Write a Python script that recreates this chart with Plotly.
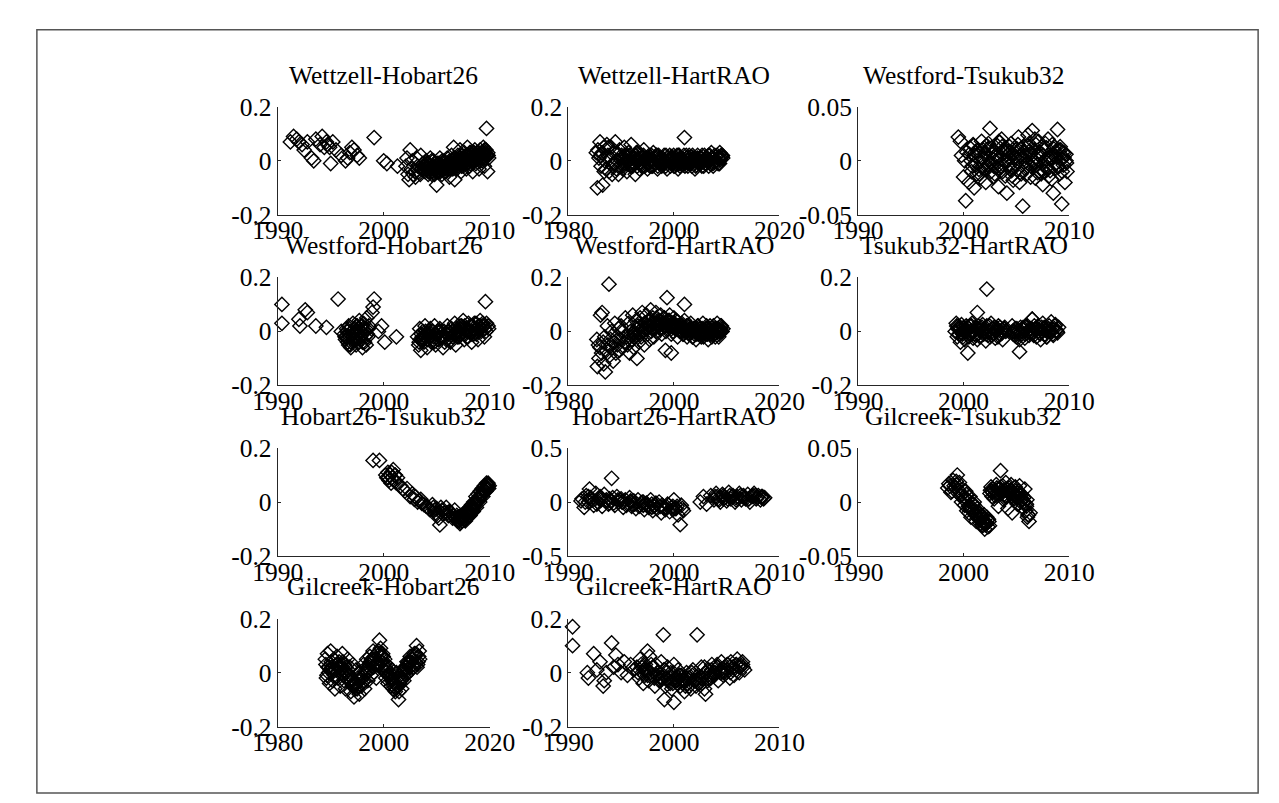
import plotly.graph_objects as go

W, H = 1279, 803

# ---------------- data ----------------
# 1 Wettzell-Hobart26
wh_x = [1991.2,1991.5,1991.8,1992.0,1992.3,1992.5,1992.8,1993.2,1993.4,1993.6,1994.0,1994.2,1994.4,1994.6,1994.7,1994.9,1995.0,1995.2,1995.5,1996.0,1996.4,1996.6,1996.8,1997.0,1997.2,1997.5,1997.7,1999.1,2000.0,2000.3,2001.3,
        2002.1,2002.2,2002.3,2002.4,2002.5,2002.6,2002.7,2002.8,2003.0,2003.1,2003.2,2003.3,2003.5,2003.6,2003.7,2003.9,2004.0,2004.1,2004.2,2004.3,2004.4,2004.5,2004.6,2004.7,2004.8,2004.9,2005.0,2005.1,2005.2,2005.3,2005.4,2005.5,2005.6,2005.7,2005.8,2005.9,2006.0,2006.1,2006.2,2006.3,2006.4,2006.5,2006.6,2006.7,2006.8,2006.9,2007.0,2007.1,2007.2,2007.3,2007.4,2007.5,2007.6,2007.7,2007.8,2007.9,2008.0,2008.1,2008.2,2008.3,2008.4,2008.5,2008.6,2008.7,2008.8,2008.9,2009.0,2009.1,2009.2,2009.3,2009.4,2009.5,2009.6,2009.7,2009.8,2009.9,
        2004.05,2004.35,2004.65,2004.95,2005.25,2005.55,2005.85,2006.15,2006.45,2006.75,2007.05,2007.35,2007.65,2007.95,2008.25,2008.55,2008.85,2009.15,2009.45,2009.75,2004.25,2004.85,2005.45,2006.05,2006.65,2007.25,2007.85,2008.45,2009.05,2009.65,
        2003.8,2004.15,2004.55,2005.05,2005.35,2005.75,2006.25,2006.55,2006.95,2007.45,2007.75,2008.15,2008.65,2008.95,2009.35,2009.55,2009.85,2002.95,2003.45]
wh_y = [0.07,0.09,0.08,0.07,0.06,0.04,0.07,0.01,0.0,0.08,0.06,0.09,0.05,0.07,0.06,0.05,-0.01,0.07,0.04,0.02,0.0,0.01,0.03,0.05,0.04,0.02,0.01,0.086,0.0,-0.01,-0.02,
        -0.02,0.01,-0.05,-0.07,0.04,-0.03,0.0,-0.05,-0.06,0.01,-0.02,-0.04,0.02,-0.03,-0.01,-0.04,0.0,-0.02,-0.05,-0.03,0.01,-0.04,-0.02,0.0,-0.05,-0.03,-0.09,-0.01,-0.04,0.01,-0.02,-0.05,-0.03,0.0,-0.02,-0.04,0.01,-0.03,-0.06,-0.01,0.02,-0.02,0.05,-0.07,0.0,-0.03,0.02,-0.01,0.04,-0.04,0.01,-0.02,0.03,0.0,-0.03,0.05,0.01,-0.02,0.03,0.0,-0.04,0.02,0.04,-0.01,0.03,0.01,-0.03,0.04,0.02,0.0,0.05,-0.02,0.03,0.12,-0.04,0.01,
        -0.01,-0.03,-0.02,-0.04,-0.02,-0.01,-0.03,-0.02,0.0,-0.01,0.0,-0.02,0.01,0.02,0.01,0.0,0.02,0.01,0.03,0.02,-0.04,-0.01,-0.03,-0.01,-0.02,0.01,-0.01,0.03,0.02,0.04,
        -0.03,-0.01,-0.05,-0.02,-0.04,-0.01,-0.03,0.0,-0.02,0.0,0.02,-0.01,0.01,0.03,0.01,0.04,0.02,-0.04,-0.05]
wh_x2 = [2004.02,2004.12,2004.22,2004.32,2004.42,2004.52,2004.62,2004.72,2004.82,2004.92,2005.02,2005.12,2005.22,2005.32,2005.42,2005.52,2005.62,2005.72,2005.82,2005.92,2006.02,2006.12,2006.22,2006.32,2006.42,2006.52,2006.62,2006.72,2006.82,2006.92,2007.02,2007.12,2007.22,2007.32,2007.42,2007.52,2007.62,2007.72,2007.82,2007.92,2008.02,2008.12,2008.22,2008.32,2008.42,2008.52,2008.62,2008.72,2008.82,2008.92,2009.02,2009.12,2009.22,2009.32,2009.42,2009.52,2009.62,2009.72,2009.82]
wh_y2 = [-0.03,-0.01,-0.04,-0.02,-0.03,0.0,-0.04,-0.02,-0.01,-0.03,-0.02,-0.04,-0.01,-0.03,-0.02,0.0,-0.03,-0.01,-0.04,-0.02,-0.01,-0.03,0.0,-0.02,-0.01,-0.03,0.01,-0.02,0.0,-0.01,-0.02,0.01,0.0,-0.01,0.02,-0.01,0.01,0.0,0.02,-0.01,0.01,0.03,0.0,0.02,0.01,0.03,0.0,0.02,0.01,0.03,0.02,0.0,0.03,0.01,0.02,0.04,0.01,0.02,0.03]

# 2 Wettzell-HartRAO
whr_x = [1985.3,1985.5,1985.6,1985.8,1986.0,1986.2,1986.4,1986.5,1986.7,1986.9,1987.1,1987.3,1987.5,1987.7,1987.9,1988.1,1988.3,1988.5,1988.7,1988.9,1989.1,1989.3,1989.5,1989.7,1989.9,
         1990.1,1990.3,1990.6,1990.8,1991.1,1991.4,1991.6,1991.9,1992.2,1992.4,1992.7,1992.9,1993.2,1993.5,1993.7,1994.0,1994.3,1994.5,1994.8,1995.0,1995.3,1995.6,1995.8,1996.1,1996.4,1996.6,1996.9,1997.1,1997.4,1997.7,1997.9,1998.2,1998.5,1998.7,1999.0,1999.2,1999.5,1999.8,2000.0,2000.3,2000.6,2000.8,2001.1,2001.3,2001.6,2001.9,2002.1,2002.4,2002.7,2002.9,2003.2,2003.4,2003.7,2004.0,2004.2,2004.5,2004.8,2005.0,2005.3,2005.5,2005.8,2006.1,2006.3,2006.6,2006.9,2007.1,2007.4,2007.6,2007.9,2008.2,2008.4,2008.7,2008.9,2009.2,
         2002.0,
         1990.5,1991.0,1991.5,1992.0,1992.5,1993.0,1993.6,1994.1,1994.6,1995.1,1995.7,1996.2,1996.7,1997.2,1997.8,1998.3,1998.8,1999.3,1999.9,2000.4,2000.9,2001.4,2002.0,2002.5,2003.0,2003.5,2004.1,2004.6,2005.1,2005.6,2006.2,2006.7,2007.2,2007.7,2008.3,2008.8,2009.1,
         1986.1,1986.8,1987.6,1988.4,1989.2,1990.9,1991.8,1992.6,1993.4,1994.2,1995.2,1996.0,1996.8,1997.6,1998.4,1999.6,2000.2,2001.0,2001.8,2002.6,2003.3,2004.3,2005.2,2006.0,2006.8,2007.8,2008.6]
whr_y = [0.03,-0.10,0.04,0.01,0.07,-0.02,0.03,-0.09,0.05,0.0,-0.03,0.06,0.02,-0.04,0.01,0.05,-0.05,-0.01,0.03,0.07,-0.03,0.0,-0.05,0.04,-0.02,
         0.02,-0.03,0.05,0.0,-0.04,0.03,-0.01,0.06,-0.02,0.01,-0.05,0.03,0.0,-0.03,0.02,-0.01,0.04,-0.02,0.01,-0.03,0.02,0.0,-0.02,0.03,-0.01,0.01,-0.03,0.02,0.0,-0.02,0.01,-0.01,0.02,-0.03,0.0,0.02,-0.01,0.01,-0.02,0.0,0.02,-0.03,0.01,-0.01,0.0,0.02,-0.02,0.01,-0.01,0.02,0.0,-0.02,0.01,-0.03,0.0,0.02,-0.01,0.01,-0.02,0.0,0.02,-0.01,0.01,-0.02,0.0,0.03,-0.01,0.01,0.0,0.02,-0.01,0.03,0.01,0.02,
         0.086,
         -0.01,0.015,0.0,-0.015,0.01,0.005,-0.01,0.012,0.0,-0.012,0.008,-0.005,0.01,-0.008,0.005,0.0,-0.01,0.01,-0.005,0.008,-0.012,0.004,-0.006,0.01,-0.01,0.006,0.0,-0.008,0.01,-0.004,0.008,0.0,0.012,-0.006,0.01,0.004,0.015,
         0.02,-0.04,0.05,-0.02,0.03,0.02,-0.02,0.01,0.03,-0.02,0.01,-0.02,0.02,-0.01,0.0,0.015,-0.02,0.02,-0.015,0.0,0.015,-0.015,0.01,-0.01,0.02,0.0,0.01]
whr_x2 = [1990.05,1990.35,1990.65,1990.95,1991.25,1991.55,1991.85,1992.15,1992.45,1992.75,1993.05,1993.35,1993.65,1993.95,1994.25,1994.55,1994.85,1995.15,1995.45,1995.75,1996.05,1996.35,1996.65,1996.95,1997.25,1997.55,1997.85,1998.15,1998.45,1998.75,1999.05,1999.35,1999.65,1999.95,2000.25,2000.55,2000.85,2001.15,2001.45,2001.75,2002.05,2002.35,2002.65,2002.95,2003.25,2003.55,2003.85,2004.15,2004.45,2004.75,2005.05,2005.35,2005.65,2005.95,2006.25,2006.55,2006.85,2007.15,2007.45,2007.75,2008.05,2008.35,2008.65,2008.95,2009.25]
whr_y2 = [0.01,-0.02,0.02,-0.01,0.0,0.02,-0.02,0.01,-0.01,0.02,-0.02,0.0,0.01,-0.02,0.02,0.0,-0.01,0.01,-0.02,0.02,0.0,-0.01,0.02,-0.02,0.01,0.0,-0.01,0.02,-0.02,0.01,0.0,-0.02,0.01,0.02,-0.01,0.0,0.02,-0.02,0.01,-0.01,0.0,0.02,-0.02,0.01,-0.01,0.02,0.0,-0.02,0.01,0.0,-0.01,0.02,-0.02,0.01,0.0,0.02,-0.01,0.01,-0.02,0.02,0.0,0.01,-0.01,0.02,0.01]

# 3 Westford-Tsukub32
wt_x = [1999.5,1999.7,1999.8,2000.0,2000.1,2000.2,2000.3,2000.5,2000.6,2000.8,2000.9,2001.0,2001.2,2001.3,2001.5,2001.6,2001.7,2001.9,2002.0,2002.1,2002.3,2002.4,2002.5,2002.7,2002.8,2002.9,2003.1,2003.2,2003.3,2003.5,2003.6,2003.7,2003.9,2004.0,2004.1,2004.3,2004.4,2004.5,2004.7,2004.8,2004.9,2005.1,2005.2,2005.3,2005.5,2005.6,2005.7,2005.9,2006.0,2006.1,2006.3,2006.4,2006.5,2006.7,2006.8,2006.9,2007.1,2007.2,2007.3,2007.5,2007.6,2007.7,2007.9,2008.0,2008.1,2008.3,2008.4,2008.5,2008.7,2008.8,2008.9,2009.1,2009.2,2009.3,2009.5,2009.6,2009.7,2009.8,
        2001.05,2001.45,2001.85,2002.25,2002.65,2003.05,2003.45,2003.85,2004.25,2004.65,2005.05,2005.45,2005.85,2006.25,2006.65,2007.05,2007.45,2007.85,2008.25,2008.65,2009.05,2009.45,2001.25,2002.05,2002.85,2003.65,2004.45,2005.25,2006.05,2006.85,2007.65,2008.45,2009.25,
        2000.7,2001.1,2001.8,2002.2,2002.6,2003.0,2003.4,2003.8,2004.2,2004.6,2005.0,2005.4,2005.8,2006.2,2006.6,2007.0,2007.4,2007.8,2008.2,2008.6,2009.0,2009.4,2009.7]
wt_y = [0.022,0.018,0.005,-0.015,0.0,-0.037,0.008,-0.02,0.012,-0.005,0.015,-0.025,0.004,0.01,-0.012,0.0,0.018,-0.008,0.006,-0.02,0.011,-0.003,0.03,0.002,-0.015,0.009,-0.006,0.014,-0.024,0.004,0.02,-0.01,0.0,0.012,-0.03,0.007,-0.004,0.016,-0.018,0.003,0.01,-0.008,0.022,-0.02,0.005,-0.042,0.013,0.0,-0.012,0.024,0.006,-0.005,0.028,0.01,-0.016,0.002,0.018,-0.01,0.007,-0.022,0.012,0.0,-0.006,0.02,-0.014,0.004,0.015,-0.03,0.008,-0.002,0.029,-0.012,0.01,-0.04,0.003,-0.02,0.006,-0.01,
        0.005,-0.008,0.01,-0.004,0.012,0.0,-0.01,0.008,0.003,-0.006,0.011,-0.012,0.004,0.009,-0.003,0.006,-0.009,0.012,0.002,-0.007,0.01,-0.004,-0.012,0.007,-0.005,0.013,-0.008,0.004,-0.002,0.015,-0.01,0.006,0.002,
        0.0,0.008,-0.006,0.014,-0.01,0.005,0.017,-0.004,0.009,-0.014,0.002,0.011,-0.007,0.016,0.0,-0.011,0.006,0.002,-0.009,0.013,-0.005,0.008,0.0]
wt_x2 = [2000.55,2000.75,2000.95,2001.15,2001.35,2001.55,2001.75,2001.95,2002.15,2002.35,2002.55,2002.75,2002.95,2003.15,2003.35,2003.55,2003.75,2003.95,2004.15,2004.35,2004.55,2004.75,2004.95,2005.15,2005.35,2005.55,2005.75,2005.95,2006.15,2006.35,2006.55,2006.75,2006.95,2007.15,2007.35,2007.55,2007.75,2007.95,2008.15,2008.35,2008.55,2008.75,2008.95,2009.15,2009.35,2009.55,2009.75]
wt_y2 = [0.006,-0.01,0.014,-0.004,0.009,-0.016,0.002,0.012,-0.008,0.016,-0.002,0.008,-0.012,0.004,0.018,-0.006,0.01,-0.014,0.0,0.013,-0.009,0.006,-0.003,0.015,-0.011,0.003,0.009,-0.006,0.014,-0.015,0.001,0.02,-0.004,0.008,-0.012,0.005,0.016,-0.008,0.002,-0.017,0.011,0.004,-0.006,0.013,-0.01,0.007,-0.002]

# 4 Westford-Hobart26
wfh_x = [1990.4,1990.4,1992.0,1992.1,1992.6,1992.8,1993.6,1994.6,1995.7,1996.0,
         1996.3,1996.4,1996.5,1996.6,1996.7,1996.8,1996.9,1997.0,1997.1,1997.2,1997.3,1997.4,1997.5,1997.6,1997.7,1997.8,1997.9,1998.0,1998.1,1998.2,1998.3,1998.4,1998.5,1998.6,1996.55,1996.85,1997.15,1997.45,1997.75,1998.05,1998.35,
         1996.45,1996.75,1997.05,1997.35,1997.65,1997.95,1998.25,1998.55,
         1998.9,1999.0,1999.1,1999.5,1999.8,2000.1,2001.2,
         2003.2,2003.3,2003.4,2003.5,2003.6,2003.7,2003.8,2003.9,2004.0,2004.1,2004.3,2004.4,2004.5,2004.7,2004.8,2004.9,2005.1,2005.2,2005.3,2005.5,2005.6,2005.7,2005.9,2006.0,2006.1,2006.3,2006.4,2006.5,2006.7,2006.8,2006.9,2007.1,2007.2,2007.3,2007.5,2007.6,2007.7,2007.9,2008.0,2008.1,2008.3,2008.4,2008.5,2008.7,2008.8,2008.9,2009.1,2009.2,2009.3,2009.5,2009.6,2009.7,2009.9,
         2003.65,2004.25,2004.85,2005.45,2006.05,2006.65,2007.25,2007.85,2008.45,2009.05,2009.55,
         2003.45,2004.05,2004.65,2005.25,2005.85,2006.45,2007.05,2007.65,2008.25,2008.85,2009.45]
wfh_y = [0.10,0.03,0.045,0.02,0.08,0.07,0.02,0.015,0.12,0.0,
         -0.01,-0.03,0.01,-0.04,0.02,-0.02,-0.06,0.0,0.03,-0.03,0.01,-0.05,0.02,-0.01,0.04,-0.02,0.0,-0.06,0.03,-0.04,0.01,0.05,-0.02,0.02,0.0,-0.05,-0.01,0.02,-0.03,0.01,-0.05,
         -0.02,0.01,-0.03,0.0,-0.04,0.02,-0.02,0.01,
         0.07,0.09,0.12,0.0,0.02,-0.04,-0.02,
         -0.02,-0.05,0.01,-0.07,-0.03,0.0,-0.04,0.02,-0.02,-0.06,-0.01,0.01,-0.04,-0.02,0.02,-0.05,0.0,-0.03,0.01,-0.02,-0.06,0.0,-0.03,0.02,-0.01,-0.04,0.01,-0.02,0.03,-0.05,0.0,-0.02,0.02,-0.01,0.04,-0.03,0.01,-0.02,0.03,0.0,-0.04,0.02,-0.01,0.03,0.01,-0.03,0.04,0.0,0.02,-0.02,0.11,0.03,0.01,
         -0.02,0.0,-0.01,-0.02,0.0,-0.01,0.01,0.0,0.01,0.02,0.01,
         -0.03,-0.01,-0.03,0.0,-0.02,0.0,-0.01,0.02,-0.01,0.0,0.02]
wfh_x2 = [1996.35,1996.6,1996.9,1997.1,1997.3,1997.55,1997.8,1998.0,1998.2,1998.45,1996.7,1997.95,
          2003.35,2003.55,2003.75,2003.95,2004.15,2004.35,2004.55,2004.75,2004.95,2005.15,2005.35,2005.55,2005.75,2005.95,2006.15,2006.35,2006.55,2006.75,2006.95,2007.15,2007.35,2007.55,2007.75,2007.95,2008.15,2008.35,2008.55,2008.75,2008.95,2009.15,2009.35,2009.65,2009.85]
wfh_y2 = [-0.02,0.0,-0.04,-0.01,-0.03,0.01,-0.02,-0.04,0.0,-0.01,-0.05,0.02,
          -0.04,-0.01,-0.03,0.0,-0.03,-0.02,0.0,-0.04,-0.01,-0.03,0.0,-0.02,-0.04,-0.01,0.0,-0.03,-0.01,0.01,-0.02,0.0,0.02,-0.01,0.01,-0.02,0.02,0.0,0.03,-0.01,0.02,0.01,0.03,0.0,0.02]

# 5 Westford-HartRAO
wfr_x = [1985.4,1985.5,1985.7,1985.8,1986.0,1986.1,1986.3,1986.4,1986.6,1986.7,1986.9,1987.0,1987.2,1987.4,1987.5,1987.7,1987.8,1988.0,1988.2,1988.3,1988.5,1988.7,1988.8,1989.0,1989.2,1989.3,1989.5,1989.7,1989.9,1990.0,1990.2,1990.4,1990.6,1990.8,1991.0,
         1991.2,1991.4,1991.6,1991.8,1992.0,1992.2,1992.4,1992.6,1992.8,1993.0,1993.2,1993.4,1993.6,1993.8,1994.0,1994.2,1994.4,1994.6,1994.8,1995.0,1995.2,1995.4,1995.6,1995.8,1996.0,1996.2,1996.4,1996.6,1996.8,1997.0,
         1997.2,1997.5,1997.7,1998.0,1998.2,1998.5,1998.7,1999.0,1999.2,1999.5,1999.7,2000.0,2000.2,2000.5,2000.7,2001.0,2001.2,2001.5,2001.7,2002.0,2002.2,2002.5,2002.7,2003.0,2003.2,2003.5,2003.7,2004.0,2004.2,2004.5,2004.7,2005.0,2005.2,2005.5,2005.7,2006.0,2006.2,2006.5,2006.7,2007.0,2007.2,2007.5,2007.7,2008.0,2008.2,2008.5,2008.7,2009.0,2009.3,
         1998.7,2002.0,1998.4,1999.5,
         1997.4,1997.9,1998.4,1998.9,1999.4,1999.9,2000.4,2000.9,2001.4,2001.9,2002.4,2002.9,2003.4,2003.9,2004.4,2004.9,2005.4,2005.9,2006.4,2006.9,2007.4,2007.9,2008.4,2008.9,
         1991.5,1992.5,1993.5,1994.5,1995.5,1996.5,1997.1,1997.6,1998.1,1998.6,1999.1,1999.6,2000.1,2000.6,2001.1,2001.6,2002.1,2003.1,2004.1,2005.1,2006.1,2007.1,2008.1,2009.1]
wfr_y = [-0.03,-0.13,-0.05,-0.1,-0.06,0.06,-0.08,0.07,-0.04,-0.12,-0.02,-0.15,-0.07,0.02,-0.05,0.175,-0.09,-0.03,0.0,-0.06,-0.11,-0.04,0.03,-0.08,-0.02,-0.05,0.01,-0.07,-0.03,0.02,-0.06,0.0,-0.04,0.05,-0.02,
         -0.05,0.03,-0.08,0.0,-0.03,0.06,-0.06,-0.01,0.04,-0.1,0.02,-0.04,0.05,-0.02,0.07,0.0,-0.05,0.03,0.06,-0.01,0.04,-0.03,0.08,0.01,0.05,-0.02,0.03,0.07,0.0,0.04,
         0.02,0.06,-0.01,0.03,0.05,0.0,0.04,0.02,0.06,-0.01,0.03,0.05,0.01,0.04,-0.02,0.02,0.0,0.03,-0.01,0.04,0.01,-0.02,0.02,0.0,0.03,-0.02,0.01,0.0,-0.03,0.02,-0.01,0.01,-0.02,0.03,0.0,-0.01,0.02,-0.03,0.01,0.0,-0.02,0.02,-0.01,0.01,0.03,-0.02,0.0,0.02,0.01,
         0.125,0.1,-0.07,-0.08,
         0.01,0.03,0.02,0.04,0.02,0.03,0.01,0.02,0.0,0.01,0.02,0.0,0.01,-0.01,0.0,0.01,-0.01,0.0,0.01,-0.01,0.0,0.01,0.0,0.01,
         -0.02,-0.01,0.0,0.01,0.02,0.02,0.03,0.01,0.02,0.03,0.04,0.02,0.03,0.02,0.01,0.02,0.0,0.01,0.0,0.0,0.01,0.0,0.0,0.0]
wfr_x2 = [1992.1,1992.4,1992.7,1993.1,1993.4,1993.7,1994.1,1994.4,1994.7,1995.1,1995.4,1995.7,1996.1,1996.4,1996.7,1997.0,1997.3,1997.6,1997.85,1998.1,1998.35,1998.6,1998.85,1999.1,1999.35,1999.6,1999.85,2000.1,2000.35,2000.6,2000.85,2001.1,2001.35,2001.6,2001.85,2002.1,2002.35,2002.6,2002.85,2003.1,2003.35,2003.6,2003.85,2004.1,2004.35,2004.6,2004.85,2005.1,2005.35,2005.6,2005.85,2006.1,2006.35,2006.6,2006.85,2007.1,2007.35,2007.6,2007.85,2008.1,2008.35,2008.6,2008.85,2009.1]
wfr_y2 = [-0.03,0.0,-0.02,0.01,-0.01,0.02,0.0,0.03,0.01,0.02,0.04,0.0,0.03,0.01,0.05,0.02,0.04,0.01,0.03,0.05,0.02,0.03,0.01,0.04,0.02,0.03,0.0,0.02,0.04,0.01,0.02,0.0,0.02,0.01,-0.01,0.01,0.0,0.02,-0.01,0.01,0.0,-0.02,0.01,0.0,-0.01,0.02,0.0,-0.01,0.01,-0.02,0.0,0.01,-0.01,0.0,0.02,-0.01,0.0,0.01,-0.02,0.0,0.01,-0.01,0.02,0.0]

# 6 Tsukub32-HartRAO
tr_x = [1999.2,1999.3,1999.4,1999.5,1999.6,1999.7,1999.8,1999.9,2000.0,2000.1,2000.2,2000.3,2000.5,2000.6,2000.7,2000.8,2000.9,2001.0,2001.1,2001.3,2001.4,2001.5,2001.6,2001.8,2001.9,2002.0,2002.1,2002.2,2002.4,2002.5,2002.6,2002.8,2002.9,2003.0,2003.2,2003.3,2003.4,2003.6,2003.7,2003.9,2004.0,
        2004.6,2004.7,2004.9,2005.0,2005.1,2005.3,2005.4,2005.5,2005.7,2005.8,2005.9,2006.1,2006.2,2006.3,2006.5,2006.6,2006.7,2006.9,2007.0,2007.1,2007.3,2007.4,2007.5,2007.7,2007.8,2007.9,2008.1,2008.2,2008.3,2008.5,2008.6,2008.7,2008.9,2009.0,
        2002.2,2000.4,2005.3,2001.3,2006.5,
        1999.45,1999.85,2000.25,2000.65,2001.05,2001.45,2001.85,2002.3,2002.7,2003.1,2003.5,2003.8,2004.8,2005.2,2005.6,2006.0,2006.4,2006.8,2007.2,2007.6,2008.0,2008.4,2008.8]
tr_y = [0.0,0.03,-0.02,0.02,0.01,-0.04,0.025,-0.01,0.015,-0.03,0.01,0.0,-0.02,0.02,-0.01,0.03,-0.025,0.0,0.015,-0.03,0.02,0.005,-0.015,0.025,-0.01,0.01,-0.035,0.02,0.0,-0.02,0.03,-0.005,0.015,-0.025,0.01,0.02,-0.01,0.005,-0.03,0.015,0.0,
        0.02,-0.01,0.01,-0.02,0.0,-0.03,0.015,-0.01,0.005,-0.025,0.02,0.0,-0.015,0.01,0.045,-0.005,0.02,-0.02,0.01,0.0,-0.03,0.015,0.03,-0.01,0.005,-0.02,0.02,0.0,0.035,-0.015,0.01,0.025,-0.005,0.015,
        0.157,-0.08,-0.075,0.07,0.045,
        0.01,-0.005,0.02,0.0,-0.01,0.01,0.0,-0.015,0.01,0.0,-0.01,0.01,0.0,-0.01,0.01,-0.005,0.0,0.01,-0.005,0.01,0.0,0.01,0.005]
tr_x2 = [1999.35,1999.55,1999.75,1999.95,2000.15,2000.35,2000.55,2000.75,2000.95,2001.15,2001.35,2001.55,2001.75,2001.95,2002.15,2002.45,2002.65,2002.85,2003.05,2003.25,2003.45,2003.65,2003.85,2004.65,2004.85,2005.05,2005.25,2005.45,2005.65,2005.85,2006.05,2006.25,2006.45,2006.65,2006.85,2007.05,2007.25,2007.45,2007.65,2007.85,2008.05,2008.25,2008.45,2008.65,2008.85]
tr_y2 = [0.02,-0.01,0.01,-0.02,0.0,0.015,-0.01,0.02,0.0,-0.015,0.01,-0.02,0.015,0.0,-0.01,0.02,-0.015,0.01,0.0,-0.02,0.015,-0.005,0.01,0.0,-0.015,0.01,-0.02,0.0,0.015,-0.01,0.02,-0.005,0.01,-0.015,0.005,0.02,-0.01,0.0,0.015,-0.02,0.01,0.005,-0.01,0.02,0.0]

# 7 Hobart26-Tsukub32
ht_x = [1999.0,1999.6,
        2000.2,2000.3,2000.4,2000.5,2000.6,2000.7,2000.8,2000.9,2001.0,2001.1,2001.2,2001.3,2001.6,2001.8,2002.0,2002.2,2002.5,2002.7,2002.9,2003.0,2003.2,2003.5,2003.8,2004.0,2004.2,2004.4,2004.6,2004.8,2005.0,2005.1,2005.3,2005.5,2005.7,2005.9,2006.1,2006.3,2006.5,2006.7,2006.9,2007.0,2007.1,2007.2,2007.3,2007.4,2007.5,2007.6,2007.7,2007.8,2007.9,2008.0,2008.1,2008.2,2008.3,2008.4,2008.5,2008.6,2008.7,2008.8,2008.9,2009.0,2009.1,2009.2,2009.3,2009.4,2009.5,2009.6,2009.7,2009.8,2009.9,
        2007.15,2007.45,2007.75,2008.05,2008.35,2008.65,2008.95,2009.25,2009.55,2009.85,2007.35,2007.95,2008.55,2009.15,2009.75,
        2000.45,2000.75,2001.05,2004.9,2005.2,2005.4,2006.0,2006.6,2007.05,2007.65,2008.25,2008.85,2009.45]
ht_y = [0.154,0.154,
        0.10,0.09,0.11,0.08,0.10,0.07,0.09,0.12,0.08,0.10,0.07,0.09,0.06,0.05,0.04,0.05,0.02,0.03,0.01,0.02,0.0,0.01,-0.01,-0.015,-0.02,-0.03,-0.01,-0.03,-0.025,-0.05,-0.085,-0.03,-0.04,-0.02,-0.05,-0.04,-0.06,-0.03,-0.05,-0.07,-0.06,-0.08,-0.05,-0.07,-0.06,-0.04,-0.07,-0.05,-0.03,-0.05,-0.02,-0.04,-0.01,-0.03,0.0,-0.01,0.02,0.0,0.03,0.01,0.04,0.03,0.05,0.04,0.06,0.05,0.07,0.06,0.05,
        -0.07,-0.05,-0.04,-0.03,-0.02,0.0,0.01,0.03,0.04,0.07,-0.06,-0.04,-0.02,0.02,0.05,
        0.09,0.11,0.1,-0.04,-0.06,-0.02,-0.04,-0.05,-0.065,-0.045,-0.025,0.01,0.045]
ht_x2 = [2006.55,2006.75,2006.95,2007.05,2007.25,2007.4,2007.55,2007.7,2007.85,2008.0,2008.15,2008.3,2008.45,2008.6,2008.75,2008.9,2009.05,2009.2,2009.35,2009.5,2009.65,2009.8,2009.95,2003.3,2003.6,2004.3,2004.7,2005.6,2006.2]
ht_y2 = [-0.05,-0.06,-0.07,-0.055,-0.075,-0.06,-0.05,-0.065,-0.045,-0.04,-0.05,-0.025,-0.035,-0.01,-0.02,0.01,0.0,0.025,0.02,0.045,0.04,0.065,0.06,0.005,-0.005,-0.025,-0.02,-0.045,-0.035]

# 8 Hobart26-HartRAO
hr_x = [1991.2,1991.5,1991.7,1992.0,1992.2,1992.4,1992.6,1992.8,1993.0,1993.2,1993.4,1993.6,1993.8,1994.1,1994.2,1994.4,1994.6,1994.8,1995.0,1995.2,1995.4,1995.6,1995.8,1996.0,1996.2,1996.4,1996.6,1996.8,1997.0,1997.2,1997.4,1997.6,1997.8,1998.0,1998.2,1998.4,1998.6,1998.8,1999.0,1999.2,1999.4,1999.6,1999.8,2000.0,2000.2,2000.4,2000.6,2000.7,2000.9,
        1992.1,1993.1,1994.0,1995.1,1996.1,1997.1,1998.1,1999.1,2000.1,
        1991.9,1992.9,1993.9,1994.9,1995.9,1996.9,1997.9,1998.9,1999.9,
        2002.5,2002.8,2003.1,2003.5,2003.8,2004.0,2004.2,2004.4,2004.6,2004.8,2005.0,2005.2,2005.4,2005.6,2005.8,2006.0,2006.2,2006.4,2006.6,2006.8,2007.0,2007.2,2007.4,2007.6,2007.8,2008.0,2008.2,2008.4,2008.6,
        2004.1,2004.7,2005.3,2005.9,2006.5,2007.1,2007.7,2008.3]
hr_y = [0.01,-0.05,0.06,0.12,0.03,-0.03,0.08,0.0,0.05,-0.04,0.07,0.02,-0.02,0.22,0.04,-0.03,0.05,0.0,0.03,-0.05,0.02,-0.02,0.04,-0.04,0.01,-0.06,0.02,-0.03,0.0,-0.07,-0.01,-0.05,0.02,-0.08,-0.03,-0.06,0.0,-0.1,-0.04,-0.07,-0.02,-0.09,-0.05,0.02,-0.06,-0.12,-0.21,-0.03,-0.08,
        0.04,0.02,0.01,0.0,-0.02,-0.03,-0.04,-0.05,-0.06,
        0.0,0.03,-0.01,0.02,0.0,-0.01,-0.02,-0.03,-0.04,
        0.0,0.05,-0.02,0.06,0.02,0.08,0.03,0.0,0.07,0.04,0.01,0.09,0.03,0.06,0.0,0.05,0.08,0.02,0.06,0.03,0.07,0.0,0.05,0.08,0.03,0.06,0.02,0.05,0.04,
        0.05,0.03,0.06,0.04,0.05,0.03,0.06,0.04]
hr_x2 = [1991.3,1991.6,1991.9,1992.3,1992.7,1993.1,1993.5,1993.9,1994.3,1994.7,1995.1,1995.5,1995.9,1996.3,1996.7,1997.1,1997.5,1997.9,1998.3,1998.7,1999.1,1999.5,1999.9,2000.3,2000.8,2003.9,2004.3,2004.7,2005.1,2005.5,2005.9,2006.3,2006.7,2007.1,2007.5,2007.9,2008.3,2008.5]
hr_y2 = [0.03,0.0,0.05,0.02,-0.02,0.04,0.01,0.03,-0.01,0.02,0.0,-0.03,0.01,-0.02,-0.04,0.0,-0.03,-0.05,-0.01,-0.04,-0.06,-0.03,-0.07,-0.04,-0.06,0.05,0.02,0.06,0.03,0.05,0.02,0.06,0.04,0.03,0.06,0.04,0.05,0.03]

# 9 Gilcreek-Tsukub32
gt_x = [1998.5,1998.7,1998.9,1999.0,1999.2,1999.4,1999.5,1999.6,1999.8,1999.9,2000.0,2000.1,2000.2,2000.3,2000.4,2000.5,2000.6,2000.7,2000.8,2000.9,2001.0,2001.1,2001.2,2001.3,2001.4,2001.5,2001.6,2001.7,2001.8,2001.9,2002.0,2002.1,2002.2,2002.3,2002.4,
        2002.5,2002.6,2002.7,2002.8,2002.9,2003.0,2003.1,2003.2,2003.3,2003.4,2003.5,2003.6,2003.7,2003.8,2003.9,2004.0,2004.1,2004.2,2004.3,2004.4,2004.5,2004.6,2004.7,2004.8,2004.9,2005.0,2005.1,2005.2,2005.3,2005.4,2005.5,2005.6,2005.7,2005.8,2005.9,2006.0,2006.1,2006.2,2006.3,
        2001.55,2001.75,2001.95,2002.15,2002.35,2003.15,2003.55,2003.95,2004.35,2004.75,2005.15,2005.55,2005.95,
        1999.3,1999.7,2000.15,2000.55,2000.95,2001.35,2002.05,2002.65,2003.25,2003.85,2004.45,2005.05,2005.65,2006.05]
gt_y = [0.013,0.015,0.01,0.02,0.013,0.025,0.008,0.018,0.0,0.012,0.005,-0.003,0.01,-0.008,0.002,-0.01,0.005,-0.014,-0.005,-0.009,0.0,-0.012,-0.018,-0.006,-0.015,-0.01,-0.02,-0.013,-0.022,-0.017,-0.025,-0.019,-0.014,-0.023,-0.018,
        0.008,0.014,0.005,0.012,0.003,0.01,0.016,0.006,-0.004,0.012,0.029,0.008,0.015,0.002,0.011,0.018,0.005,-0.006,0.013,0.007,0.016,-0.01,0.009,0.003,0.014,0.006,-0.002,0.01,0.015,0.0,0.007,-0.005,0.004,0.012,-0.008,0.002,-0.012,-0.018,-0.01,
        -0.016,-0.021,-0.012,-0.02,-0.016,0.008,0.01,0.006,0.009,0.004,0.008,0.003,-0.002,
        0.016,0.006,0.004,-0.004,-0.002,-0.012,-0.021,0.01,0.012,0.007,0.011,0.004,0.0,-0.014]
gt_x2 = [1998.6,1998.8,1999.1,1999.3,1999.55,1999.75,2000.05,2000.25,2000.45,2000.65,2000.85,2001.05,2001.25,2001.45,2001.65,2001.85,2002.05,2002.25,2002.45,2002.55,2002.75,2002.95,2003.15,2003.35,2003.55,2003.75,2003.95,2004.15,2004.35,2004.55,2004.75,2004.95,2005.15,2005.35,2005.55,2005.75,2005.95,2006.15]
gt_y2 = [0.017,0.009,0.015,0.019,0.011,0.006,0.002,0.007,-0.004,-0.007,-0.002,-0.01,-0.009,-0.016,-0.012,-0.019,-0.021,-0.017,-0.022,0.011,0.009,0.006,0.013,0.008,0.014,0.01,0.005,0.012,0.009,0.011,0.006,0.01,0.004,0.008,0.002,0.0,-0.004,-0.012]

# 10 Gilcreek-Hobart26
gh_x = [1989.0,1989.2,1989.4,1989.6,1989.8,1990.0,1990.2,1990.4,1990.6,1990.8,1991.0,1991.2,1991.4,1991.6,1991.8,1992.0,1992.2,1992.4,1992.6,1992.8,1993.0,1993.2,1993.4,1993.6,1993.8,1994.0,1994.2,1994.4,1994.6,1994.8,1995.0,1995.2,1995.4,1995.6,1995.8,1996.0,1996.2,1996.4,1996.6,1996.8,1997.0,1997.2,1997.4,1997.6,1997.8,1998.0,1998.2,1998.4,1998.6,1998.8,1999.0,1999.2,1999.4,1999.6,1999.8,2000.0,2000.2,2000.4,2000.6,2000.8,2001.0,2001.2,2001.4,2001.6,2001.8,2002.0,2002.2,2002.4,2002.6,2002.8,2003.0,2003.2,2003.4,2003.6,2003.8,2004.0,2004.2,2004.4,2004.6,2004.8,2005.0,2005.2,2005.4,2005.6,2005.8,2006.0,2006.2,2006.4,2006.6,2006.8,
        1989.5,1990.3,1991.1,1991.9,1992.7,1993.5,1994.3,1995.1,1996.5,1997.3,1998.1,1998.9,1999.7,2000.5,2001.3,2002.1,2003.3,2004.1,2004.9,2005.7,2006.5,
        1989.3,1990.1,1990.9,1991.7,1992.5,1993.3,1994.1,1994.9,1996.3,1997.1,1997.9,1998.7,1999.5,2000.3,2001.1,2001.9,2003.1,2003.9,2004.7,2005.5,2006.3]
gh_y = [0.05,-0.02,0.07,0.0,-0.04,0.08,0.02,-0.03,0.05,-0.06,0.01,0.06,-0.02,0.04,-0.05,0.02,0.07,-0.01,0.03,-0.06,0.0,0.05,-0.03,0.02,-0.07,-0.02,0.03,-0.09,-0.04,0.01,-0.06,-0.03,-0.08,0.0,-0.05,-0.02,0.03,-0.06,0.01,0.05,-0.03,0.02,0.06,-0.01,0.04,0.08,0.0,0.05,-0.02,0.07,0.03,0.12,0.09,0.04,0.07,0.01,0.05,-0.02,0.03,-0.04,0.02,-0.01,-0.05,0.01,-0.06,-0.03,-0.07,0.0,-0.05,-0.1,-0.04,-0.02,-0.06,0.01,-0.03,0.02,-0.01,0.04,0.0,0.03,0.06,0.01,0.05,0.02,0.07,0.04,0.1,0.03,0.06,0.05,
        0.02,0.0,0.03,0.01,0.0,-0.01,-0.04,-0.02,0.0,0.03,0.02,0.04,0.02,0.0,-0.02,-0.04,-0.03,0.0,0.02,0.03,0.04,
        -0.01,0.04,-0.02,0.02,-0.03,0.01,-0.05,-0.04,-0.03,0.01,0.05,0.03,0.06,0.02,0.0,-0.05,-0.01,0.01,0.04,0.05,0.02]
gh_x2 = [1989.1,1989.7,1990.5,1991.3,1992.1,1992.9,1993.7,1994.5,1995.3,1995.9,1996.7,1997.5,1998.3,1999.1,1999.9,2000.7,2001.5,2002.3,2002.9,2003.5,2004.3,2005.1,2005.9,2006.7,
         1989.9,1990.7,1991.5,1992.3,1993.1,1993.9,1994.7,1995.5,1996.9,1997.7,1998.5,1999.3,2000.1,2000.9,2001.7,2002.5,2003.7,2004.5,2005.3,2006.1]
gh_y2 = [0.03,0.02,0.01,0.03,0.0,0.02,-0.01,-0.05,-0.05,-0.04,0.02,0.04,0.06,0.08,0.06,0.01,-0.03,-0.06,-0.07,-0.02,0.02,0.04,0.06,0.08,
         0.01,-0.01,0.02,0.04,-0.02,-0.03,-0.06,-0.02,0.0,0.05,0.03,0.07,0.03,-0.01,-0.02,-0.05,0.0,0.03,0.05,0.07]

# 11 Gilcreek-HartRAO
gr_x = [1990.4,1990.4,1991.8,1991.9,1992.4,1992.7,1993.0,1993.3,1993.4,1993.6,1994.1,1994.3,1994.5,1994.7,1995.0,1995.3,1995.6,1995.9,1996.2,
        1996.5,1996.7,1996.8,1997.0,1997.1,1997.3,1997.4,1997.6,1997.7,1997.9,1998.0,1998.2,1998.3,1998.5,1998.6,1998.8,1998.9,1999.1,1999.2,1999.4,1999.5,1999.7,1999.8,2000.0,2000.1,2000.3,2000.4,2000.6,2000.7,2000.9,2001.0,2001.2,2001.3,2001.5,2001.6,2001.8,2001.9,2002.1,2002.3,2002.4,2002.6,2002.7,2002.9,2003.0,2003.2,2003.3,2003.5,2003.6,2003.8,2003.9,2004.1,2004.2,2004.4,2004.5,2004.7,2004.8,2005.0,2005.1,2005.3,2005.4,2005.6,2005.7,2005.9,2006.0,2006.2,2006.3,2006.5,2006.7,
        1999.0,2002.2,1999.1,2000.0,2003.0,1997.5,
        1997.2,1997.8,1998.4,1999.0,1999.6,2000.2,2000.8,2001.4,2002.0,2002.6,2003.2,2003.8,2004.4,2005.0,2005.6,2006.2,
        1996.9,1997.5,1998.1,1998.7,1999.3,1999.9,2000.5,2001.1,2001.7,2002.3,2002.9,2003.5,2004.1,2004.7,2005.3,2005.9,2006.5]
gr_y = [0.17,0.10,0.0,-0.02,0.07,0.01,0.04,-0.05,-0.03,0.0,0.11,0.02,0.065,0.03,0.0,0.04,-0.01,0.03,0.01,
        0.02,-0.02,0.05,0.0,-0.04,0.03,0.01,-0.03,0.06,-0.01,0.02,-0.05,0.03,0.0,-0.03,0.04,-0.02,0.01,-0.05,0.02,-0.03,0.0,-0.06,0.03,-0.02,-0.04,0.01,-0.05,-0.01,-0.03,-0.07,0.0,-0.04,-0.02,-0.06,0.01,-0.03,-0.05,-0.01,-0.04,0.02,-0.02,-0.06,0.0,-0.03,0.01,-0.02,0.03,-0.01,0.0,0.02,-0.03,0.01,0.04,-0.01,0.02,0.0,0.03,-0.02,0.04,0.01,-0.01,0.03,0.05,0.0,0.02,0.04,0.01,
        0.14,0.14,-0.1,-0.11,-0.08,0.08,
        0.01,0.0,-0.01,-0.01,-0.02,-0.02,-0.03,-0.02,-0.03,-0.02,-0.01,0.0,0.0,0.01,0.02,0.02,
        0.03,-0.01,0.02,-0.02,0.0,-0.04,-0.01,-0.05,0.0,-0.04,0.02,-0.01,0.03,0.0,0.02,0.03,0.03]
gr_x2 = [1996.6,1996.95,1997.25,1997.55,1997.85,1998.15,1998.45,1998.75,1999.05,1999.35,1999.65,1999.95,2000.25,2000.55,2000.85,2001.15,2001.45,2001.75,2002.05,2002.35,2002.65,2002.95,2003.25,2003.55,2003.85,2004.15,2004.45,2004.75,2005.05,2005.35,2005.65,2005.95,2006.25,2006.55]
gr_y2 = [0.0,0.02,-0.01,0.01,0.03,-0.02,0.0,-0.03,0.01,-0.02,-0.04,0.0,-0.03,-0.01,-0.04,-0.02,-0.05,-0.01,-0.03,-0.02,-0.04,0.0,-0.02,0.01,-0.01,0.02,0.0,0.01,0.03,0.0,0.02,0.01,0.03,0.02]

titles = ["Wettzell-Hobart26", "Wettzell-HartRAO", "Westford-Tsukub32",
          "Westford-Hobart26", "Westford-HartRAO", "Tsukub32-HartRAO",
          "Hobart26-Tsukub32", "Hobart26-HartRAO", "Gilcreek-Tsukub32",
          "Gilcreek-Hobart26", "Gilcreek-HartRAO"]
xs = [wh_x + wh_x2, whr_x + whr_x2, wt_x + wt_x2, wfh_x + wfh_x2, wfr_x + wfr_x2, tr_x + tr_x2,
      ht_x + ht_x2, hr_x + hr_x2, gt_x + gt_x2, gh_x + gh_x2, gr_x + gr_x2]
ys = [wh_y + wh_y2, whr_y + whr_y2, wt_y + wt_y2, wfh_y + wfh_y2, wfr_y + wfr_y2, tr_y + tr_y2,
      ht_y + ht_y2, hr_y + hr_y2, gt_y + gt_y2, gh_y + gh_y2, gr_y + gr_y2]

x_ranges = [(1990, 2010), (1980, 2020), (1990, 2010),
            (1990, 2010), (1980, 2020), (1990, 2010),
            (1990, 2010), (1990, 2010), (1990, 2010),
            (1980, 2020), (1990, 2010)]
y_lims = [0.2, 0.2, 0.05, 0.2, 0.2, 0.2, 0.2, 0.5, 0.05, 0.2, 0.2]
y_labels = {0.2: ["-0.2", "0", "0.2"], 0.05: ["-0.05", "0", "0.05"], 0.5: ["-0.5", "0", "0.5"]}

# ---------------- layout geometry (pixels) ----------------
col_px = [(254, 475), (557, 777), (859, 1079)]
row_px = [(88, 200), (265, 377), (442, 554), (619, 731)]

FONT = "Liberation Serif"
FS = 25.5
AX = "#262626"

fig = go.Figure()
annotations = []
for i, (t, x, y) in enumerate(zip(titles, xs, ys)):
    r, c = divmod(i, 3)
    n = i + 1
    xa = "x" if n == 1 else f"x{n}"
    ya = "y" if n == 1 else f"y{n}"
    fig.add_trace(go.Scatter(
        x=x, y=y, mode="markers", xaxis=xa, yaxis=ya, cliponaxis=False,
        marker=dict(symbol="diamond-open", size=11, color="black", line=dict(width=1.4, color="black")),
        showlegend=False, hoverinfo="skip"))
    x0, x1 = col_px[c]
    t0, b0 = row_px[r]
    xr = x_ranges[i]
    lim = y_lims[i]
    xd = [x0 / W, x1 / W]
    yd = [1 - b0 / H, 1 - t0 / H]
    xkey = "xaxis" if n == 1 else f"xaxis{n}"
    ykey = "yaxis" if n == 1 else f"yaxis{n}"
    fig.update_layout({
        xkey: dict(domain=xd, anchor=ya, range=list(xr),
                   tickvals=[xr[0], (xr[0] + xr[1]) / 2, xr[1]],
                   ticktext=[str(xr[0]), str((xr[0] + xr[1]) // 2), str(xr[1])],
                   showline=True, linecolor=AX, linewidth=1, ticks="inside", ticklen=3,
                   tickcolor=AX, showgrid=False, zeroline=False, ticklabelstandoff=-7,
                   tickfont=dict(family=FONT, size=FS, color="black")),
        ykey: dict(domain=yd, anchor=xa, range=[-lim, lim],
                   tickvals=[-lim, 0, lim], ticktext=y_labels[lim],
                   showline=True, linecolor=AX, linewidth=1, ticks="inside", ticklen=3,
                   tickcolor=AX, showgrid=False, zeroline=False,
                   tickfont=dict(family=FONT, size=FS, color="black")),
    })
    annotations.append(dict(
        text=t, x=(x0 + x1) / 2 / W, y=1 - (t0 - 33) / H, xref="paper", yref="paper",
        xanchor="center", yanchor="middle", showarrow=False,
        font=dict(family=FONT, size=FS, color="black")))

fig.update_layout(
    width=W, height=H, margin=dict(l=0, r=0, t=0, b=0),
    paper_bgcolor="white", plot_bgcolor="white",
    annotations=annotations,
    shapes=[dict(type="rect", xref="paper", yref="paper",
                 x0=3 / W, x1=1 - 3 / W, y0=3 / H, y1=1 - 8 / H,
                 line=dict(color="#555555", width=1.5))],
)

fig.write_html("out.html")
